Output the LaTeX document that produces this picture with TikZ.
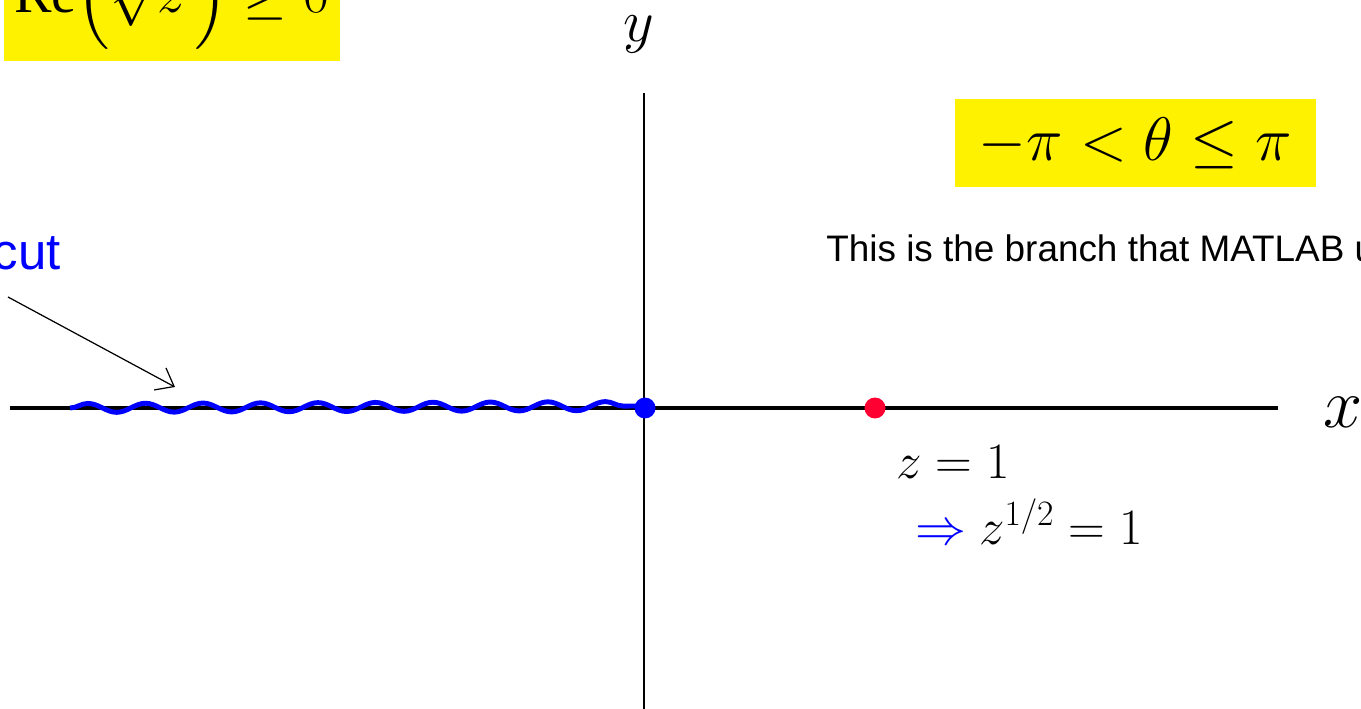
\RequirePackage{fix-cm}
\documentclass[tikz,border=0pt]{standalone}
\usepackage{amsmath,amssymb}
\usepackage{fontspec}
\setmainfont{Liberation Serif}
\setsansfont{Liberation Sans}
\usetikzlibrary{arrows.meta}
\usetikzlibrary{decorations.pathmorphing}
\definecolor{ptred}{RGB}{255,0,51}
\tikzset{hlbox/.style = {fill = yellow, inner sep = 0, outer sep = 0}}
\tikzset{dot/.style = {fill, circle, inner sep = 0, minimum size = 0.42cm}}
\tikzset{axis/.style = {line width = 2.2pt}}
\tikzset{wavy/.style = {blue, line width = 2.8pt,
                        decorate, decoration = {snake, segment length = 1.15cm,
                                                amplitude = 0.09cm}}}
\tikzset{txt/.style = {inner sep = 0}}
\tikzset{eqn/.style = {txt, font = \fontsize{29}{33}\selectfont}}
\tikzset{bigeqn/.style = {font = \fontsize{35}{40}\selectfont}}

\begin{document}
\begin{tikzpicture}[x=0.02cm, y=-0.02cm]
      \useasboundingbox (0,0) rectangle (1361,709);
      \clip (0,0) rectangle (1361,709);

      % axes
      \coordinate (xl) at (10,408);
      \coordinate (xr) at (1278,408);
      \coordinate (yt) at (644,93);
      \coordinate (yb) at (644,712);
      \draw[line width=1.1pt] (yt) -- (yb);
      \draw[axis] (xl) -- (xr);
      \node[eqn, font=\fontsize{40}{44}\selectfont] (xlab) at (1343,412) {$x$};
      \node[eqn, font=\fontsize{34}{38}\selectfont] (ylab) at (639,34) {$y$};

      % branch cut
      \coordinate (cuta) at (70,408);
      \coordinate (cutb) at (640,406);
      \draw[wavy] (cuta) -- (cutb);
      \node[dot, blue] (origin) at (645,408) {};
      \node[dot, ptred] (one) at (875,408) {};

      \node[txt, anchor=base east, blue, font=\sffamily\fontsize{29}{34}\selectfont]
            (cutlab) at (61,270) {cut};
      \coordinate (tail) at (8,297);
      \coordinate (head) at (175,387);
      \draw[-{Straight Barb[length=0.32cm, width=0.5cm]}, line width=0.7pt]
            (tail) -- (head);

      % branch
      \node[hlbox, anchor=south west, minimum width=6.72cm, minimum height=2cm]
            (rebox) at (4,61) {};
      \node[txt, bigeqn, font=\fontsize{32}{36}\selectfont, anchor=base west]
            (retext) at (14,13) {$\mathrm{Re}\Bigl(\sqrt{z}\,\Bigr)\geq 0$};
      \node[hlbox, bigeqn, minimum width=7.22cm, minimum height=1.76cm]
            (thbox) at (1135.5,143) {$-\pi<\theta\leq\pi$};
      \node[txt, anchor=base west, font=\sffamily\fontsize{21}{25}\selectfont]
            (matlab) at (826,262) {This is the branch that MATLAB uses};

      % value at z = 1
      \node[eqn, anchor=base west] (zone) at (896,478) {$z=1$};
      \node[eqn, anchor=base west] (root) at (915,544)
            {$\textcolor{blue}{\Rightarrow}\ z^{1/2}=1$};
    \end{tikzpicture}
\end{document}
